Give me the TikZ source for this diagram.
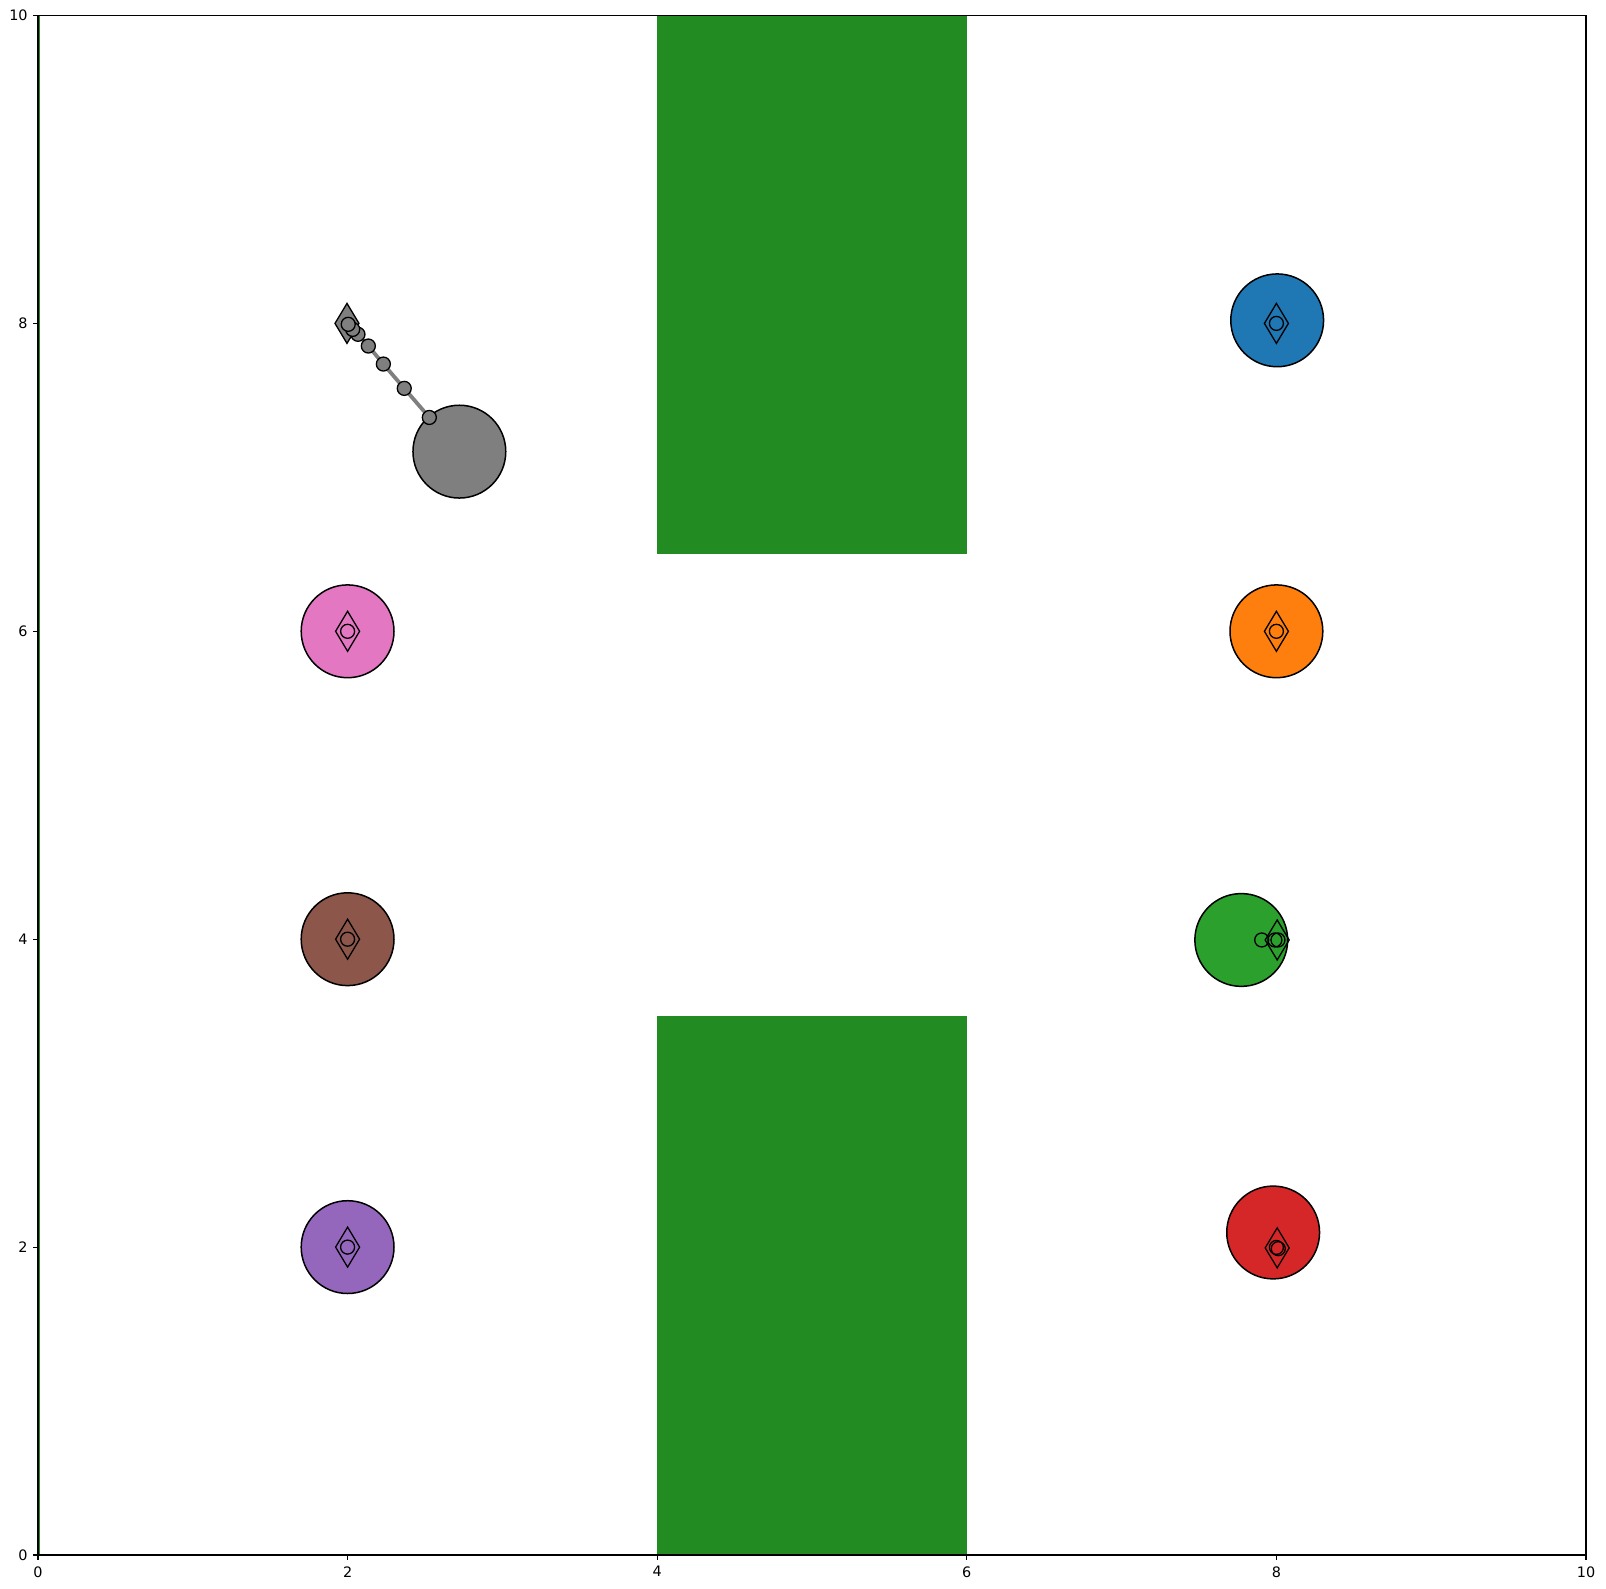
\documentclass[tikz,border=0pt]{standalone}
\usepackage{fontspec}
\setmainfont{DejaVu Sans}
\definecolor{tabblue}{HTML}{1F77B4}
\definecolor{taborange}{HTML}{FF7F0E}
\definecolor{tabgreen}{HTML}{2CA02C}
\definecolor{tabred}{HTML}{D62728}
\definecolor{tabpurple}{HTML}{9467BD}
\definecolor{tabbrown}{HTML}{8C564B}
\definecolor{tabpink}{HTML}{E377C2}
\definecolor{tabgray}{HTML}{7F7F7F}
\definecolor{forest}{RGB}{34,139,34}
\tikzset{
  agent/.style={draw=black, line width=0.75pt},
  mk/.style={draw=black, line width=0.65pt},
  ticklab/.style={font=\fontsize{7.2pt}{8.5pt}\selectfont, inner sep=0pt},
  wall/.style={fill=forest, draw=none},
}
\newcommand{\dmk}[2]{\path[mk,#2] (#1) ++(0,10pt) -- ++(6pt,-10pt) -- ++(-6pt,-10pt) -- ++(-6pt,10pt) -- cycle;}
\newcommand{\cmk}[2]{\path[mk,#2] (#1) circle[radius=3.5pt];}
\begin{document}
\begin{tikzpicture}[x=0.5pt,y=-0.5pt]
\useasboundingbox (0,0) rectangle (1606,1589);
\fill[white] (0,0) rectangle (1606,1589);
\begin{scope}[shift={(38,1555)}, x=77.4pt, y=76.975pt]
  % walls
  \fill[wall] (4,6.5) rectangle (6,10);
  \fill[wall] (4,0) rectangle (6,3.5);
  \draw[forest, line width=0.9pt] (0.008,0) -- (0.008,10);
  % static agents
  \foreach \c/\x/\y/\mx/\my in {tabblue/8.005/8.02/8/8, taborange/8/6/8/6, tabpink/2/6/2/6, tabbrown/2/4/2/4, tabpurple/2/2/2/2}{
    \path[agent, fill=\c] (\x,\y) circle[radius=23.2pt];
    \coordinate (g) at (\mx,\my);
    \dmk{g}{}
    \cmk{g}{}
  }
  % green agent
  \path[agent, fill=tabgreen] (7.773,3.995) circle[radius=23.2pt];
  \coordinate (gd) at (8.005,3.995);
  \dmk{gd}{}
  \coordinate (g1) at (7.905,3.995);
  \coordinate (g2) at (7.99,3.995);
  \coordinate (g3) at (8.01,3.995);
  \cmk{g1}{}\cmk{g2}{}\cmk{g3}{}
  % red agent
  \path[agent, fill=tabred] (7.979,2.095) circle[radius=23.2pt];
  \coordinate (rd) at (8.005,1.995);
  \dmk{rd}{}
  \coordinate (r1) at (8.0,1.998);
  \coordinate (r2) at (8.012,1.99);
  \cmk{r1}{}\cmk{r2}{}
  % gray agent trajectory
  \coordinate (p1) at (2.004,7.994);
  \coordinate (p2) at (2.033,7.961);
  \coordinate (p3) at (2.067,7.929);
  \coordinate (p4) at (2.134,7.853);
  \coordinate (p5) at (2.231,7.736);
  \coordinate (p6) at (2.366,7.578);
  \coordinate (p7) at (2.528,7.389);
  \path[agent, fill=tabgray] (2.722,7.167) circle[radius=23.2pt];
  \draw[tabgray, line width=1.9pt] (p1) -- (p2) -- (p3) -- (p4) -- (p5) -- (p6) -- (p7);
  \coordinate (pd) at (1.996,8.0);
  \dmk{pd}{fill=tabgray}
  \foreach \p in {p7,p6,p5,p4,p3,p2,p1}{\cmk{\p}{fill=tabgray}}
  % frame
  \draw[black, line width=0.6pt] (0,0) rectangle (10,10);
  \foreach \v in {0,2,4,6,8,10}{
    \draw[black, line width=0.6pt] (\v,0) -- ++(0,-2.5pt);
    \draw[black, line width=0.6pt] (0,\v) -- ++(-2.5pt,0);
    \node[ticklab, anchor=north] at ([yshift=-5.5pt]\v,0) {\v};
    \node[ticklab, anchor=east] at ([xshift=-5pt]0,\v) {\v};
  }
\end{scope}
\end{tikzpicture}
\end{document}
